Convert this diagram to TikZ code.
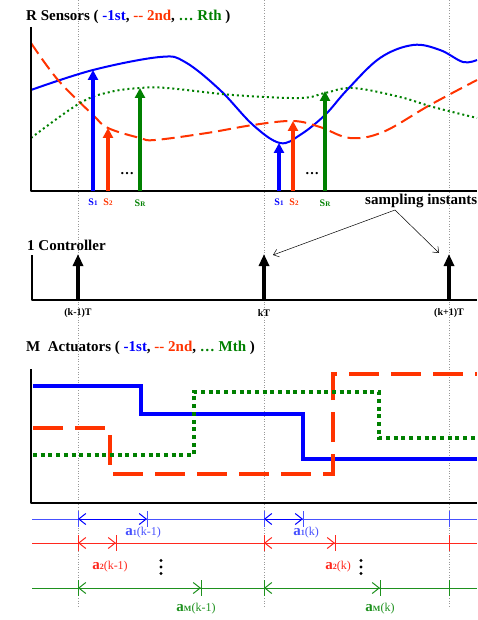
\documentclass[tikz,border=0pt]{standalone}
\usepackage{fontspec}
\setmainfont{Liberation Serif}
\usetikzlibrary{arrows.meta}

\definecolor{sblue}{RGB}{0,0,255}
\definecolor{sred}{RGB}{255,51,0}
\definecolor{sgreen}{RGB}{0,128,0}
\definecolor{lblue}{RGB}{70,80,255}
\definecolor{lred}{RGB}{255,40,30}
\definecolor{lgreen}{RGB}{30,145,30}

\newcommand{\smallidx}[1]{{\fontsize{7}{7}\selectfont #1}}
\newcommand{\delayname}[2]{{\bfseries\fontsize{15}{15}\selectfont a}{\bfseries\fontsize{8}{8}\selectfont #1}(#2)}

\tikzset{
  paneltitle/.style={anchor=west, inner sep=0pt, font=\bfseries\fontsize{15}{17}\selectfont},
  axisline/.style={line width=2pt, line join=round},
  gridline/.style={gray!80, dotted, line width=0.6pt},
  sensorcurve/.style={line width=2pt},
  sample/.style={line width=3.5pt, -{Triangle[width=10pt,length=10pt]}},
  ctrlarrow/.style={line width=4pt, -{Triangle[width=10pt,length=12pt]}},
  steps/.style={line width=4pt},
  smalllab/.style={font=\bfseries\fontsize{10}{11}\selectfont, inner sep=1pt},
  pointer/.style={line width=0.5pt, -{Straight Barb[length=5pt,width=8pt]}},
  timeline/.style={line width=0.8pt},
  delay/.style={line width=1pt, {Straight Barb[length=7pt,width=11pt]}-{Straight Barb[length=7pt,width=11pt]}},
  delaylab/.style={font=\fontsize{12}{13}\selectfont, inner sep=0pt},
}

\begin{document}
\begin{tikzpicture}[x=1pt,y=-1pt]
\useasboundingbox (0,0) rectangle (477,620);

% sampling grid
\draw[gridline] (78,0) -- (78,607);
\draw[gridline] (264,0) -- (264,607);
\draw[gridline] (449,0) -- (449,607);

% ---- sensors
\node[paneltitle] (senstitle) at (26,17) {R Sensors ( {\color{sblue}-1st}, {\color{sred}-{}- 2nd}, {\color{sgreen}\dots\ Rth} )};
\draw[sensorcurve, sblue] plot[smooth, tension=0.6] coordinates {(31,90) (93,70) (160,57) (185,62) (220,90) (253,125) (280,143) (300,135) (325,115) (347,90) (380,58) (413,45) (440,50) (463,62) (477,60)};
\draw[sensorcurve, sred, dash pattern=on 13pt off 6pt] plot[smooth, tension=0.6] coordinates {(31,43) (58,80) (93,115) (108,128) (140,138) (155,140) (207,133) (253,125) (293,121) (320,127) (350,138) (383,132) (430,105) (477,80)};
\draw[sensorcurve, sgreen, dash pattern=on 2pt off 3pt] plot[smooth, tension=0.6] coordinates {(31,138) (80,103) (110,92) (140,88) (167,88) (233,95) (300,98) (325,93) (353,88) (400,97) (433,107) (477,118)};
\draw[axisline] (31,27) -- (31,191) -- (477,191);

\coordinate (s1a) at (93,191);  \coordinate (s1at) at (93,70);
\coordinate (s2a) at (108,191); \coordinate (s2at) at (108,128);
\coordinate (sRa) at (140,191); \coordinate (sRat) at (140,88);
\coordinate (s1b) at (279,191); \coordinate (s1bt) at (279,143);
\coordinate (s2b) at (293,191); \coordinate (s2bt) at (293,121);
\coordinate (sRb) at (325,191); \coordinate (sRbt) at (325,91);
\draw[sample, sblue] (s1a) -- (s1at);
\draw[sample, sred] (s2a) -- (s2at);
\draw[sample, sgreen] (sRa) -- (sRat);
\draw[sample, sblue] (s1b) -- (s1bt);
\draw[sample, sred] (s2b) -- (s2bt);
\draw[sample, sgreen] (sRb) -- (sRbt);
\node[font=\bfseries\fontsize{14}{14}\selectfont] (dotsa) at (127,174) {\dots};
\node[font=\bfseries\fontsize{14}{14}\selectfont] (dotsb) at (312,174) {\dots};

\node[smalllab, sblue] (l1a) at (93,202) {S\smallidx{1}};
\node[smalllab, sred] (l2a) at (108,202) {S\smallidx{2}};
\node[smalllab, sgreen] (lRa) at (140,203) {S\smallidx{R}};
\node[smalllab, sblue] (l1b) at (279,202) {S\smallidx{1}};
\node[smalllab, sred] (l2b) at (294,202) {S\smallidx{2}};
\node[smalllab, sgreen] (lRb) at (325,203) {S\smallidx{R}};

\node[anchor=west, inner sep=0pt, font=\bfseries\fontsize{15}{16}\selectfont] (samp) at (365,201) {sampling instants};
\coordinate (sampfoot) at (395,210);
\coordinate (kTpt) at (273,255);
\coordinate (k1Tpt) at (439,253);
\draw[pointer] (sampfoot) -- (kTpt);
\draw[pointer] (sampfoot) -- (k1Tpt);

% ---- controller
\node[paneltitle] (ctrltitle) at (27,245) {1 Controller};
\draw[axisline] (32,255) -- (32,300) -- (477,300);
\coordinate (c0) at (78,300);  \coordinate (c0t) at (78,254);
\coordinate (c1) at (264,300); \coordinate (c1t) at (264,254);
\coordinate (c2) at (449,300); \coordinate (c2t) at (449,254);
\draw[ctrlarrow] (c0) -- (c0t);
\draw[ctrlarrow] (c1) -- (c1t);
\draw[ctrlarrow] (c2) -- (c2t);
\node[smalllab] (km1) at (78,313) {(k-1)T};
\node[smalllab] (k0) at (264,313) {kT};
\node[smalllab] (kp1) at (449,313) {(k+1)T};

% ---- actuators
\node[paneltitle] (acttitle) at (26,348) {M\ \ Actuators ( {\color{sblue}-1st}, {\color{sred}-{}- 2nd}, {\color{sgreen}\dots\ Mth} )};
\draw[steps, sblue] (33,386) -| (141,414) -| (303,459) -- (477,459);
\draw[steps, sred, dash pattern=on 30pt off 12pt] (33,428) -| (110,474) -| (333,374) -- (477,374);
\draw[steps, sgreen, dash pattern=on 4pt off 3.7pt] (33,455) -| (194,392) -| (379,438) -- (477,438);
\draw[axisline] (31,369) -- (31,503) -- (477,503);

% ---- delays
\draw[timeline, lblue] (32,519) -- (477,519);
\draw[timeline, lblue] (78,511) -- (78,527) (147,511) -- (147,527) (264,511) -- (264,527) (303,511) -- (303,527) (449,511) -- (449,527);
\coordinate (b0) at (78,519);  \coordinate (b1) at (147,519);
\coordinate (b2) at (264,519); \coordinate (b3) at (303,519);
\draw[delay, sblue] (b0) -- (b1);
\draw[delay, sblue] (b2) -- (b3);
\node[delaylab, lblue] (a1km1) at (143,533) {\delayname{1}{k-1}};
\node[delaylab, lblue] (a1k) at (306,533) {\delayname{1}{k}};

\draw[timeline, lred] (32,543) -- (477,543);
\draw[timeline, lred] (78,535) -- (78,551) (116,535) -- (116,551) (264,535) -- (264,551) (335,535) -- (335,551) (449,535) -- (449,551);
\coordinate (r0) at (78,543);  \coordinate (r1) at (116,543);
\coordinate (r2) at (264,543); \coordinate (r3) at (335,543);
\draw[delay, lred] (r0) -- (r1);
\draw[delay, lred] (r2) -- (r3);
\node[delaylab, lred] (a2km1) at (110,567) {\delayname{2}{k-1}};
\node[delaylab, lred] (a2k) at (338,567) {\delayname{2}{k}};
% vertical dots
\fill (161,560.5) circle (1.6) (161,567) circle (1.6) (161,573.5) circle (1.6);
\fill (361,560.5) circle (1.6) (361,567) circle (1.6) (361,573.5) circle (1.6);

\draw[timeline, lgreen] (32,588) -- (477,588);
\draw[timeline, lgreen] (78,580) -- (78,596) (201,580) -- (201,596) (264,580) -- (264,596) (380,580) -- (380,596) (449,580) -- (449,596);
\coordinate (g0) at (78,588);  \coordinate (g1) at (201,588);
\coordinate (g2) at (264,588); \coordinate (g3) at (380,588);
\draw[delay, lgreen] (g0) -- (g1);
\draw[delay, lgreen] (g2) -- (g3);
\node[delaylab, lgreen] (aMkm1) at (196,609) {\delayname{M}{k-1}};
\node[delaylab, lgreen] (aMk) at (380,609) {\delayname{M}{k}};
\end{tikzpicture}
\end{document}
